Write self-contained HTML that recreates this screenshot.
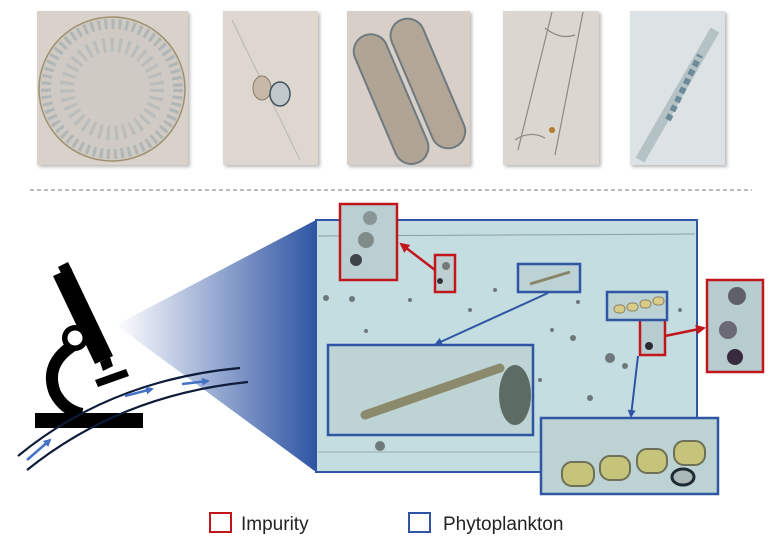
<!DOCTYPE html>
<html><head><meta charset="utf-8"><style>
html,body{margin:0;padding:0;background:#fff;width:770px;height:541px;overflow:hidden}
text{font-family:"Liberation Sans",Arial,sans-serif}
</style></head><body>
<svg width="770" height="541" viewBox="0 0 770 541" xmlns="http://www.w3.org/2000/svg">
<defs>
<linearGradient id="beam" x1="116" y1="0" x2="316" y2="0" gradientUnits="userSpaceOnUse">
<stop offset="0" stop-color="#ffffff"/><stop offset="1" stop-color="#2f55a4"/></linearGradient>
<filter id="sh"><feDropShadow dx="2" dy="2" stdDeviation="1.5" flood-color="#888" flood-opacity="0.6"/></filter>
<marker id="ab" markerWidth="8" markerHeight="8" refX="6" refY="4" orient="auto" markerUnits="userSpaceOnUse"><path d="M0,0 L8,4 L0,8 z" fill="#2f55a4"/></marker>
<marker id="ar" markerWidth="10" markerHeight="10" refX="8" refY="5" orient="auto" markerUnits="userSpaceOnUse"><path d="M0,0 L10,5 L0,10 z" fill="#c0161c"/></marker>
<marker id="af" markerWidth="8" markerHeight="8" refX="6" refY="4" orient="auto" markerUnits="userSpaceOnUse"><path d="M0,0 L8,4 L0,8 z" fill="#4472c4"/></marker>
</defs>

<!-- top images -->
<g filter="url(#sh)">
<rect x="37" y="11" width="151" height="154" fill="#d9d2ca"/>
<rect x="223" y="11" width="95" height="154" fill="#ddd7d0"/>
<rect x="347" y="11" width="123" height="154" fill="#d8d0c8"/>
<rect x="503" y="11" width="96" height="154" fill="#dbd6cf"/>
<rect x="630" y="11" width="95" height="154" fill="#dde3e4"/>
</g>
<ellipse cx="112" cy="89" rx="73" ry="72" fill="#cfcac4" stroke="#a09070" stroke-width="1.5"/>
<ellipse cx="112" cy="89" rx="66" ry="65" fill="none" stroke="#9aa8ac" stroke-width="10" stroke-dasharray="3 4" opacity="0.6"/>
<ellipse cx="112" cy="89" rx="45" ry="44" fill="none" stroke="#a3b0b2" stroke-width="14" stroke-dasharray="3 5" opacity="0.5"/>
<path d="M232,20 L300,160" stroke="#b9b6b0" stroke-width="1"/>
<ellipse cx="262" cy="88" rx="9" ry="12" fill="#c8b8a8" stroke="#8a7a6a"/>
<ellipse cx="280" cy="94" rx="10" ry="12" fill="#c0c8cc" stroke="#3e5560" stroke-width="1.5"/>
<g transform="rotate(-23 410 90)">
<rect x="372" y="22" width="34" height="138" rx="17" fill="#b0a494" stroke="#6e7a80" stroke-width="2"/>
<rect x="412" y="22" width="34" height="138" rx="17" fill="#b3a696" stroke="#6e7a80" stroke-width="2"/>
</g>
<path d="M552,12 L518,150 M583,12 L555,155 M545,28 Q560,40 575,35 M515,140 Q530,130 545,138" stroke="#8a8a84" stroke-width="1.2" fill="none"/>
<circle cx="552" cy="130" r="3" fill="#b07a30"/>
<path d="M640,160 L715,30" stroke="#b4c2c6" stroke-width="10"/>
<path d="M668,120 L700,55" stroke="#6c8a98" stroke-width="6" stroke-dasharray="6 4"/>

<!-- dashed separator -->
<line x1="30" y1="190" x2="752" y2="190" stroke="#777" stroke-width="1" stroke-dasharray="4 3"/>

<!-- beam -->
<polygon points="116,325 316,220 316,472" fill="url(#beam)"/>

<!-- microscope -->
<g fill="#000">
<rect x="35" y="413" width="108" height="15"/>
<polygon points="58,267 68,262 72,270 62,275"/>
<polygon points="53,276 71,268 113,356 95,364"/>
<polygon points="100,362 110,357 113,366 103,371"/>
<polygon points="95,380 126,369 129,376 98,387"/>
<circle cx="75" cy="338" r="13"/>
</g>
<path d="M72,346 Q44,365 55,393 Q64,410 82,414" stroke="#000" stroke-width="12" fill="none"/>
<circle cx="75" cy="338" r="7.5" fill="#fff"/>

<!-- flow tubes -->
<path d="M18,456 Q110,380 240,368" stroke="#0f1c3a" stroke-width="2.2" fill="none"/>
<path d="M27,470 Q120,395 248,382" stroke="#0f1c3a" stroke-width="2.2" fill="none"/>
<line x1="27" y1="460" x2="50" y2="440" stroke="#4472c4" stroke-width="2.5" marker-end="url(#af)"/>
<line x1="125" y1="396" x2="152" y2="389" stroke="#4472c4" stroke-width="2.5" marker-end="url(#af)"/>
<line x1="182" y1="384" x2="208" y2="381" stroke="#4472c4" stroke-width="2.5" marker-end="url(#af)"/>

<!-- main panel -->
<rect x="316" y="220" width="381" height="252" fill="#c4dde0" stroke="#2f55a4" stroke-width="2"/>
<line x1="318" y1="236" x2="695" y2="234" stroke="#8aa0a8" stroke-width="1"/>
<line x1="318" y1="452" x2="695" y2="452" stroke="#9aacb2" stroke-width="1"/>
<g fill="#4a4e50" opacity="0.7">
<circle cx="326" cy="298" r="3"/><circle cx="352" cy="299" r="3"/><circle cx="366" cy="331" r="2"/>
<circle cx="552" cy="330" r="2"/><circle cx="578" cy="302" r="2"/><circle cx="610" cy="358" r="5"/>
<circle cx="625" cy="366" r="3"/><circle cx="573" cy="338" r="3"/><circle cx="495" cy="290" r="2"/>
<circle cx="470" cy="310" r="2"/><circle cx="590" cy="398" r="3"/><circle cx="380" cy="446" r="5"/>
<circle cx="410" cy="300" r="2"/><circle cx="680" cy="310" r="2"/><circle cx="540" cy="380" r="2"/>
</g>

<!-- red boxes -->
<rect x="340" y="204" width="57" height="76" fill="#b9cfd2" stroke="#c0161c" stroke-width="2.5"/>
<circle cx="356" cy="260" r="6" fill="#3e4448"/><circle cx="366" cy="240" r="8" fill="#6a6e68" opacity="0.7"/><circle cx="370" cy="218" r="7" fill="#6a6e70" opacity="0.6"/>
<rect x="435" y="255" width="20" height="37" fill="#bcd0d3" stroke="#c0161c" stroke-width="2.5"/>
<circle cx="440" cy="281" r="3" fill="#333"/><circle cx="446" cy="266" r="4" fill="#555" opacity="0.7"/>
<line x1="435" y1="270" x2="401" y2="244" stroke="#c0161c" stroke-width="2.5" marker-end="url(#ar)"/>

<rect x="640" y="317" width="25" height="38" fill="#b7cccf" stroke="#c0161c" stroke-width="2.5"/>
<circle cx="649" cy="346" r="4" fill="#2a2a2e"/>
<rect x="707" y="280" width="56" height="92" fill="#b6cccf" stroke="#c0161c" stroke-width="2.5"/>
<circle cx="735" cy="357" r="8" fill="#3a2a40"/><circle cx="728" cy="330" r="9" fill="#5a5060" opacity="0.8"/><circle cx="737" cy="296" r="9" fill="#4a4450" opacity="0.8"/>
<line x1="665" y1="336" x2="704" y2="328" stroke="#c0161c" stroke-width="2.5" marker-end="url(#ar)"/>

<!-- blue boxes -->
<rect x="518" y="264" width="62" height="28" fill="#bcd2d4" stroke="#2f55a4" stroke-width="2.5"/>
<line x1="530" y1="284" x2="570" y2="272" stroke="#8a8468" stroke-width="3"/>
<line x1="548" y1="293" x2="436" y2="344" stroke="#2f55a4" stroke-width="2" marker-end="url(#ab)"/>
<rect x="328" y="345" width="205" height="90" fill="#bdd3d4" stroke="#2f55a4" stroke-width="2.5"/>
<line x1="365" y1="415" x2="500" y2="368" stroke="#8c8a6c" stroke-width="9" stroke-linecap="round"/>
<ellipse cx="515" cy="395" rx="16" ry="30" fill="#3e4840" opacity="0.75"/>

<rect x="607" y="292" width="60" height="28" fill="#bcd2d4" stroke="#2f55a4" stroke-width="2.5"/>
<g fill="#d9cc88" stroke="#8a8060"><rect x="614" y="305" width="11" height="8" rx="4"/><rect x="627" y="303" width="11" height="8" rx="4"/><rect x="640" y="300" width="11" height="8" rx="4"/><rect x="653" y="297" width="11" height="8" rx="4"/></g>
<line x1="638" y1="356" x2="631" y2="416" stroke="#2f55a4" stroke-width="2" marker-end="url(#ab)"/>
<rect x="541" y="418" width="177" height="76" fill="#bdd3d3" stroke="#2f55a4" stroke-width="2.5"/>
<g fill="#c5c47a" stroke="#6e7058" stroke-width="2">
<rect x="562" y="462" width="32" height="24" rx="10"/><rect x="600" y="456" width="30" height="24" rx="10"/>
<rect x="637" y="449" width="30" height="24" rx="10"/><rect x="674" y="441" width="31" height="24" rx="10"/>
</g>
<ellipse cx="683" cy="477" rx="11" ry="8" fill="#aab8ba" stroke="#1e2a34" stroke-width="3"/>

<!-- legend -->
<rect x="210" y="513" width="21" height="19" fill="none" stroke="#c0161c" stroke-width="2"/>
<text x="241" y="530" font-size="19" fill="#222">Impurity</text>
<rect x="409" y="513" width="21" height="19" fill="none" stroke="#2f55a4" stroke-width="2"/>
<text x="443" y="530" font-size="19" fill="#222">Phytoplankton</text>
</svg>
</body></html>
